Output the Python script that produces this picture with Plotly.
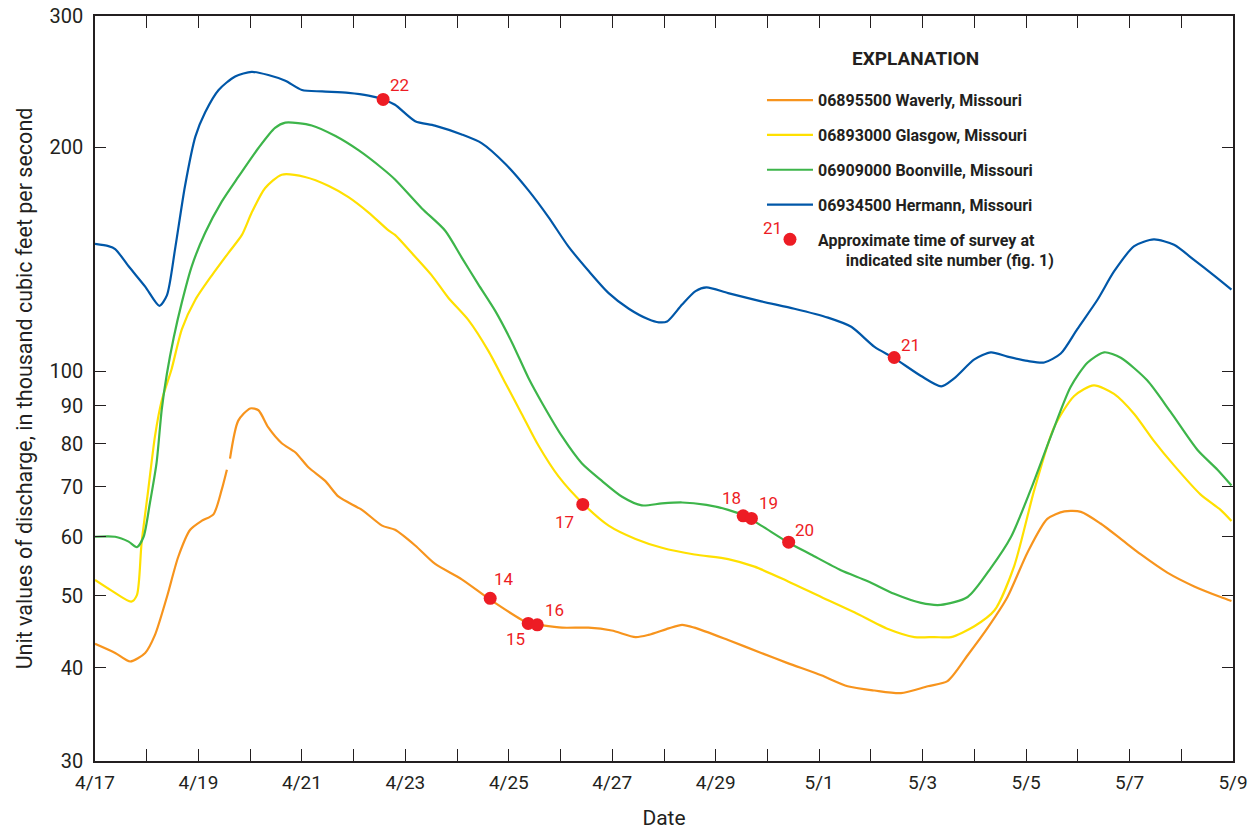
import math
import pandas as pd
import plotly.graph_objects as go

# ---------------- data (days after 2017-04-17 00:00, thousand ft3/s) ----------------
waverly_day = [0.0, 0.39, 0.68, 0.97, 1.16, 1.39, 1.61, 1.84, 2.06, 2.29, 2.45, 2.55, 2.58,
               2.61, 2.77, 3.0, 3.16, 3.35, 3.61, 3.87, 4.13, 4.45, 4.71, 5.16, 5.55, 5.80,
               6.19, 6.57, 7.09, 7.64, 8.38, 8.57, 9.03, 9.54, 9.99, 10.45, 10.70, 11.09,
               11.35, 11.59, 12.24, 12.88, 13.39, 14.04, 14.55, 15.07, 15.58, 16.1, 16.48,
               16.87, 17.26, 17.64, 18.03, 18.41, 18.74, 19.06, 19.44, 19.83, 20.22, 20.73,
               21.24, 21.76, 21.97]
waverly_q = [43.1, 41.9, 40.8, 41.9, 44.3, 49.8, 56.4, 61.3, 63.0, 64.3, 69.4, 73.8, None,
             76.4, 85.9, 89.2, 88.7, 84.1, 80.1, 77.9, 74.3, 71.3, 67.9, 65.2, 62.1, 61.3,
             58.4, 55.2, 52.6, 49.4, 45.9, 45.7, 45.3, 45.3, 44.9, 44.0, 44.3, 45.2,
             45.7, 45.3, 43.6, 41.9, 40.6, 39.1, 37.8, 37.3, 37.0, 37.8, 38.4,
             41.6, 45.3, 49.8, 57.2, 63.4, 64.9, 64.8, 62.5, 59.6, 56.8, 53.7,
             51.5, 49.8, 49.2]

glasgow_day = [0.0, 0.32, 0.70, 0.81, 0.90, 1.03, 1.16, 1.29, 1.48, 1.68, 1.94, 2.26, 2.58,
               2.84, 3.03, 3.29, 3.61, 4.06, 4.52, 4.90, 5.29, 5.68, 5.80, 6.12, 6.51, 6.83,
               7.22, 7.61, 7.93, 8.25, 8.57, 8.96, 9.45, 9.93, 10.45, 10.96, 11.59, 12.24,
               12.75, 13.39, 14.04, 14.68, 15.33, 15.84, 16.23, 16.55, 17.0, 17.39, 17.77,
               18.16, 18.54, 18.93, 19.31, 19.70, 20.09, 20.47, 20.86, 21.37, 21.76, 21.97]
glasgow_q = [52.5, 50.8, 49.1, 50.1, 58.8, 69.4, 81.9, 91.4, 100.7, 114.0, 124.8, 134.6, 144.3,
             152.5, 163.4, 176.3, 183.7, 182.4, 177.4, 171.4, 163.4, 154.5, 152.5, 144.3, 134.6, 125.6,
             117.2, 106.4, 96.6, 87.7, 79.6, 72.3, 66.3, 62.1, 59.6, 58.0, 56.8, 56.0,
             54.7, 52.3, 49.8, 47.5, 45.1, 44.0, 44.0, 44.0, 45.5, 47.8, 54.8,
             69.4, 84.1, 92.7, 95.8, 93.3, 87.7, 80.7, 74.8, 68.4, 65.2, 63.0]

boonville_day = [0.0, 0.39, 0.65, 0.81, 0.94, 1.06, 1.19, 1.29, 1.39, 1.52, 1.68, 1.87, 2.13,
                 2.45, 2.77, 3.16, 3.48, 3.68, 4.19, 4.65, 5.10, 5.55, 5.80, 6.32, 6.77, 7.09,
                 7.41, 7.74, 8.06, 8.38, 8.64, 9.03, 9.41, 9.80, 10.19, 10.57, 10.96, 11.35,
                 11.82, 12.24, 12.56, 12.88, 13.41, 13.84, 14.42, 14.94, 15.45, 15.97, 16.35,
                 16.87, 17.32, 17.71, 18.09, 18.48, 18.86, 19.19, 19.51, 19.83, 20.34, 20.79,
                 21.31, 21.70, 21.97]
boonville_q = [60.0, 60.0, 59.1, 58.1, 60.0, 66.5, 75.4, 88.9, 99.3, 110.9, 123.9, 138.4, 153.5,
               169.0, 182.4, 199.5, 212.3, 215.8, 213.9, 207.0, 198.0, 187.4, 181.0, 165.5, 154.5, 142.2,
               130.9, 120.5, 109.4, 98.0, 90.8, 81.8, 75.3, 71.3, 67.9, 66.1, 66.5, 66.7,
               66.2, 65.2, 64.0, 62.1, 58.9, 56.8, 54.1, 52.3, 50.3, 48.9, 48.6,
               49.8, 54.5, 60.0, 69.4, 81.9, 95.3, 102.8, 106.1, 104.3, 97.3, 88.3,
               78.5, 73.8, 70.3]

hermann_day = [0.0, 0.26, 0.39, 0.65, 0.97, 1.245, 1.39, 1.55, 1.74, 1.94, 2.13, 2.39, 2.71,
               3.03, 3.35, 3.68, 4.0, 4.39, 4.90, 5.29, 5.57, 5.80, 6.19, 6.57, 7.09, 7.48,
               7.93, 8.38, 8.77, 9.15, 9.54, 9.93, 10.32, 10.70, 10.90, 11.06, 11.35, 11.61,
               11.82, 12.24, 12.88, 13.52, 14.17, 14.62, 15.07, 15.45, 15.97, 16.36, 16.61,
               17.0, 17.32, 17.64, 18.03, 18.35, 18.67, 18.99, 19.38, 19.70, 20.09, 20.47,
               20.86, 21.24, 21.63, 21.97]
hermann_q = [148.3, 147.3, 146.0, 138.4, 130.0, 122.5, 126.5, 146.3, 177.4, 206.6, 222.8, 238.7, 248.9,
             252.4, 250.0, 245.6, 238.7, 237.6, 236.5, 234.5, 231.8, 228.0, 216.7, 213.8, 208.0, 202.4,
             190.0, 175.0, 161.0, 147.2, 136.5, 127.4, 121.4, 117.5, 116.4, 116.7, 123.0, 128.2,
             129.7, 127.4, 124.2, 121.4, 118.1, 114.8, 107.9, 104.2, 98.6, 95.5, 97.9,
             103.8, 106.1, 104.7, 103.3, 102.8, 105.7, 114.0, 124.8, 136.2, 147.3, 150.4,
             147.9, 141.3, 134.6, 128.8]

survey_site = ["14", "15", "16", "17", "18", "19", "20", "21", "22"]
survey_day = [7.64, 8.375, 8.55, 9.43, 12.53, 12.69, 13.41, 15.45, 5.57]
survey_q = [49.6, 45.9, 45.7, 66.3, 64.0, 63.5, 59.0, 104.4, 231.8]

series_names = ["06895500 Waverly, Missouri", "06893000 Glasgow, Missouri",
                "06909000 Boonville, Missouri", "06934500 Hermann, Missouri"]
survey_name = "Approximate time of survey at"
survey_name2 = "indicated site number (fig. 1)"
tick_days = list(range(0, 23))
tick_labels = ["4/17", "", "4/19", "", "4/21", "", "4/23", "", "4/25", "", "4/27", "",
               "4/29", "", "5/1", "", "5/3", "", "5/5", "", "5/7", "", "5/9"]
y_ticks = [30, 40, 50, 60, 70, 80, 90, 100, 200, 300]

# ---------------- styling ----------------
BASE = pd.Timestamp("2017-04-17")
FONT = "Liberation Sans Narrow, Roboto, sans-serif"
colors = ["#F7941D", "#FFE000", "#3DB54A", "#0057A8"]
RED = "#ED1C24"
AXC = "#231F20"
# label offsets (pixels) for survey numbers
label_dx = [14, -13, 17, -18, -12, 17, 16, 16, 16]
label_dy = [19, -16, 15, -18, 18, 15, 12, 13, 14]


def to_dt(days):
    return [BASE + pd.Timedelta(days=d) for d in days]


fig = go.Figure()
data = [(waverly_day, waverly_q), (glasgow_day, glasgow_q),
        (boonville_day, boonville_q), (hermann_day, hermann_q)]
for i, ((d, q), name, c) in enumerate(zip(data, series_names, colors)):
    fig.add_trace(go.Scatter(x=to_dt(d), y=q, mode="lines", name=f"<b>{name}</b>",
                             line=dict(color=c, width=2.2, shape="spline", smoothing=0.7),
                             connectgaps=False, legendgroup=f"g{i}"))

fig.add_trace(go.Scatter(
    x=to_dt(survey_day), y=survey_q, mode="markers",
    marker=dict(color=RED, size=13),
    name=f"<b>{survey_name}<br>" + "\u00a0" * 7 + f"{survey_name2}</b>",
    legendgroup="g4"))

for s, d, q, dx, dy in zip(survey_site, survey_day, survey_q, label_dx, label_dy):
    fig.add_annotation(x=BASE + pd.Timedelta(days=d), y=math.log10(q),
                       text=s, showarrow=False, xshift=dx, yshift=dy,
                       font=dict(family=FONT, size=17, color=RED))

# legend heading and the sample site number beside the legend marker
fig.add_annotation(xref="paper", yref="paper", x=0.7206, y=0.9436, text="<b>EXPLANATION</b>",
                   xanchor="center", yanchor="middle",
                   showarrow=False, font=dict(family=FONT, size=19, color=AXC))
fig.add_annotation(xref="paper", yref="paper", x=0.5955, y=0.7154, text="21",
                   xanchor="center", yanchor="middle",
                   showarrow=False, font=dict(family=FONT, size=17, color=RED))

fig.update_layout(
    width=1252, height=830,
    margin=dict(l=95, r=19, t=16, b=69),
    paper_bgcolor="white", plot_bgcolor="white",
    font=dict(family=FONT, color=AXC, size=19),
    hovermode=False,
    showlegend=True,
    legend=dict(x=0.5861, y=0.9097, xanchor="left", yanchor="top",
                font=dict(family=FONT, size=16, color=AXC),
                traceorder="grouped", tracegroupgap=11, itemwidth=46,
                valign="top", bgcolor="rgba(0,0,0,0)"),
    xaxis=dict(type="date", range=[BASE, BASE + pd.Timedelta(days=22)],
               tickvals=to_dt(tick_days), ticktext=tick_labels,
               ticks="inside", ticklen=12, tickwidth=1.3, tickcolor=AXC,
               showline=True, linecolor=AXC, linewidth=1.5, mirror="ticks",
               showgrid=False, zeroline=False, ticklabelstandoff=3, automargin=False,
               ticklabeloverflow="allow",
               tickfont=dict(family=FONT, size=19, color=AXC),
               title=dict(text="Date", font=dict(family=FONT, size=21, color=AXC), standoff=26)),
    yaxis=dict(type="log", range=[math.log10(30), math.log10(300)],
               tickvals=y_ticks, ticktext=[str(v) for v in y_ticks],
               ticks="inside", ticklen=11, tickwidth=1.3, tickcolor=AXC,
               showline=True, linecolor=AXC, linewidth=1.5, mirror="ticks",
               showgrid=False, zeroline=False, ticklabelstandoff=6, automargin=False,
               ticklabeloverflow="allow",
               tickfont=dict(family=FONT, size=20, color=AXC),
               title=dict(text="Unit values of discharge, in thousand cubic feet per second",
                          font=dict(family=FONT, size=21.5, color=AXC), standoff=11)),
)

# remove the browser's default 8 px body margin so the figure fills the window exactly
fig.write_html("out.html", config={"displayModeBar": False},
               post_script="document.body.style.margin='0px';")
